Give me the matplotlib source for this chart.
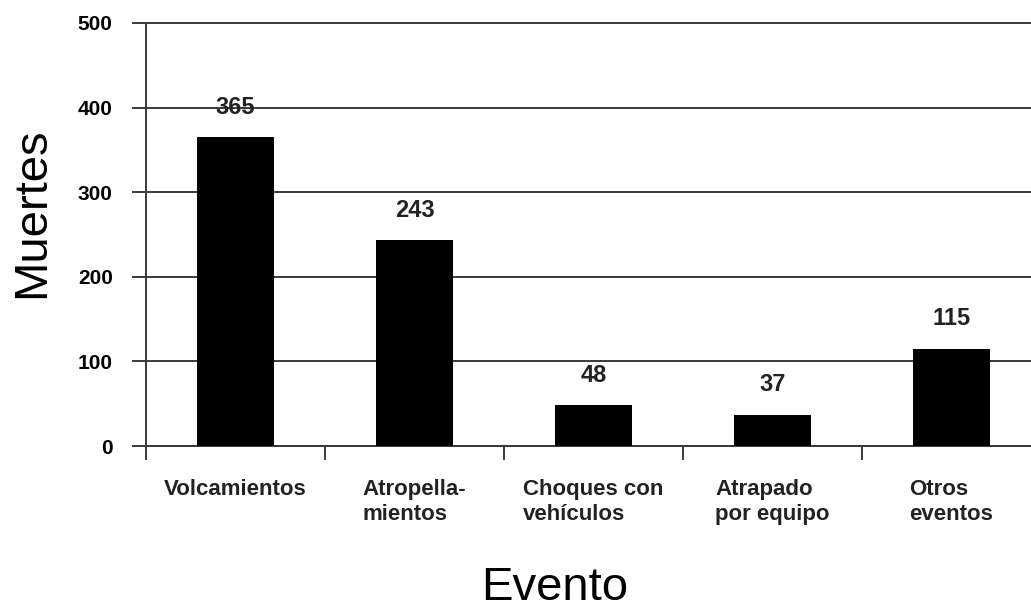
import matplotlib.pyplot as plt
import numpy as np

plt.rcParams['font.family'] = ['Liberation Sans', 'DejaVu Sans']

categories = ['Volcamientos', 'Atropella-\nmientos', 'Choques con\nvehículos',
              'Atrapado\npor equipo', 'Otros\neventos']
muertes = [365, 243, 48, 37, 115]
yticks = [0, 100, 200, 300, 400, 500]

fig = plt.figure(figsize=(10.31, 6.09), dpi=100)
# axes runs a little past the right edge like the original
ax = fig.add_axes([146 / 1031, 163 / 609, 895 / 1031, 423 / 609])

x = np.arange(len(categories))
ax.bar(x, muertes, width=0.43, color='black', zorder=3)
for xi, v in zip(x, muertes):
    ax.text(xi, v + 22, str(v), ha='center', va='bottom',
            fontsize=17, fontweight='bold', color='#222222')

ax.set_xlim(-0.5, len(categories) - 0.5)
ax.set_ylim(0, 500)
ax.set_yticks(yticks)
ax.set_yticklabels([str(t) for t in yticks], fontsize=15, fontweight='bold')
ax.yaxis.grid(True, color='#3a3a3a', linewidth=1.4, zorder=0)
for gl in ax.get_ygridlines():
    gl.set_clip_on(False)
ax.tick_params(axis='y', length=10, width=1.4, color='#3a3a3a', pad=14)

# category ticks sit between the bars
ax.set_xticks(np.arange(len(categories) + 1) - 0.5)
ax.set_xticklabels([])
ax.set_xticks(x, minor=True)
ax.set_xticklabels(categories, minor=True, fontsize=16, fontweight='bold',
                   multialignment='left', color='#222222')
ax.tick_params(axis='x', which='major', length=10, width=1.4, color='#3a3a3a')
ax.tick_params(axis='x', which='minor', length=0, pad=24)

for s in ['top', 'right']:
    ax.spines[s].set_visible(False)
for s in ['left', 'bottom']:
    ax.spines[s].set_color('#3a3a3a')
    ax.spines[s].set_linewidth(1.4)

fig.text(32 / 1031, 1 - 213 / 609, 'Muertes', fontsize=34, rotation=90,
         ha='center', va='center')
fig.text(555 / 1031, 1 - 588 / 609, 'Evento', fontsize=34, ha='center', va='center')

plt.savefig('out.png', dpi=100)
